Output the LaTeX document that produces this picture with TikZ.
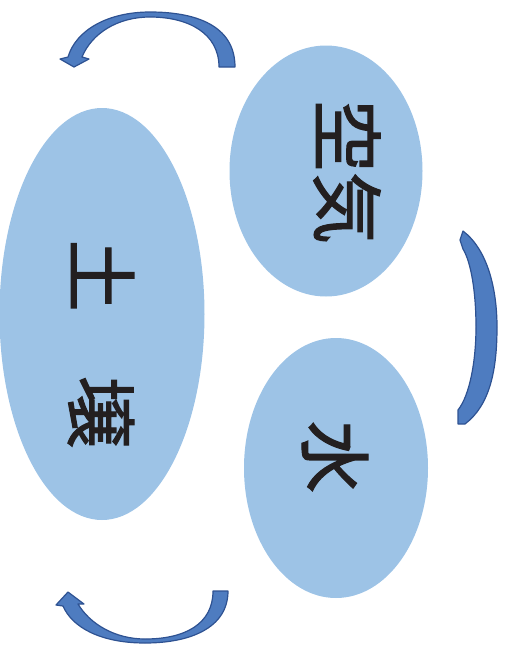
\documentclass[tikz,border=0pt]{standalone}
\usepackage{fontspec}
\usepackage{tikz}
\usetikzlibrary{shapes.geometric}
\newfontfamily\jpfont[FakeBold=1.6]{Noto Sans CJK JP}
\definecolor{myblue}{RGB}{157,195,230}
\definecolor{myarrow}{RGB}{78,124,192}
\definecolor{myarrowline}{RGB}{46,82,146}
\definecolor{mytext}{RGB}{35,31,32}
\tikzset{
  blob/.style={ellipse, fill=myblue, draw=none, inner sep=0pt, outer sep=0pt},
  word/.style={rotate=-90, inner sep=0pt, text=mytext,
    font=\jpfont\fontsize{72}{80}\selectfont},
  bendarrow/.style={fill=myarrow, draw=myarrowline, line width=1.2pt, line join=round}
}
\begin{document}
\begin{tikzpicture}[x=1pt, y=-1pt]
  \useasboundingbox (0,0) rectangle (504,646);
  % Ellipses
  \node[blob, minimum width=205pt, minimum height=412pt] (soil) at (102,314) {};
  \node[blob, minimum width=193pt, minimum height=251pt] (air) at (326,171) {};
  \node[blob, minimum width=184pt, minimum height=260pt] (water) at (336,468) {};
  % Labels
  \node[word] (soiltext) at (101,344) {土\hspace{0.9em}壌};
  \node[word] (airtext) at (347,172) {空気};
  \node[word] (watertext) at (335,457) {水};
  % Top curved arrow
  \path[bendarrow] (235,67) .. controls (235,25) and (195,12) .. (150,12)
    .. controls (108,12) and (76,30) .. (68,57) -- (60,59) -- (74,67)
    -- (89,59) -- (82,57) .. controls (92,33) and (118,17) .. (150,17)
    .. controls (188,17) and (219,33) .. (219,67) -- cycle;
  % Right arc
  \path[bendarrow] (463,231) .. controls (488,250) and (497,290) .. (497,327)
    .. controls (497,370) and (490,405) .. (465,424) -- (458,424) -- (458,410)
    .. controls (470,395) and (476,360) .. (476,327)
    .. controls (476,292) and (471,262) .. (463,249) -- (460,240) -- cycle;
  % Bottom curved arrow
  \path[bendarrow] (228,591) .. controls (228,628) and (190,643) .. (145,643)
    .. controls (100,643) and (72,627) .. (63,606) -- (56,605) -- (68,592)
    -- (84,604) -- (78,604) .. controls (90,624) and (115,639) .. (145,639)
    .. controls (185,639) and (213,624) .. (213,591) -- cycle;
\end{tikzpicture}
\end{document}
